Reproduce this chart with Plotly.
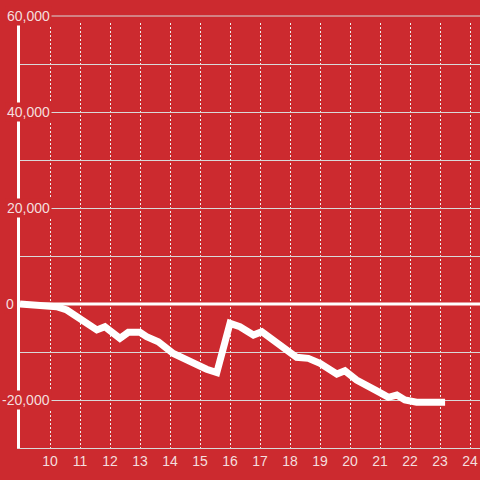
import plotly.graph_objects as go

# ---- data ----
hours = [9.0, 9.56, 10.22, 10.56, 11.0, 11.33, 11.56, 11.83, 12.06, 12.33, 12.61, 13.0,
         13.22, 13.61, 14.11, 14.56, 14.89, 15.22, 15.56, 16.0, 16.33, 16.78, 17.06,
         17.44, 18.22, 18.61, 19.0, 19.56, 19.83, 20.22, 20.67, 20.94, 21.28, 21.56,
         21.83, 22.22, 23.17]
values = [0, -140, -560, -1250, -3000, -4580, -5400, -4720, -5760, -7150, -5900, -5900,
          -6800, -7850, -10300, -11650, -12900, -13600, -14300, -4030, -4720, -6460, -5760,
          -7500, -11100, -11320, -12360, -14580, -13900, -15830, -17570, -18260, -19440, -18960,
          -20000, -20480, -20480]

y_tick_vals = [60000, 40000, 20000, 0, -20000]
y_tick_text = ["60,000", "40,000", "20,000", "0", "-20,000"]
x_tick_vals = list(range(10, 25))
x_tick_text = [str(v) for v in x_tick_vals]

# ---- style ----
BG = "#cc2a2f"
GRID = "#d9d9d9"
LABEL = "#f4dede"
W, H = 480, 480
ML, MR, MT, MB = 20, 0, 23, 32
Y_LO = -30000
PX_PER_10K = 48
plot_w = W - ML - MR
plot_h = H - MT - MB
Y_HI = Y_LO + plot_h * 10000 / PX_PER_10K
X_LO = 9.0
X_HI = X_LO + plot_w / 30.0


def yfrac(v):
    return (v - Y_LO) / (Y_HI - Y_LO)


fig = go.Figure()
fig.add_trace(go.Scatter(x=hours, y=values, mode="lines",
                         line=dict(color="white", width=7), hoverinfo="skip"))

shapes = [
    # top gridline (60,000) sits above the plot area
    dict(type="line", xref="paper", yref="paper", x0=0, x1=1,
         y0=yfrac(60000), y1=yfrac(60000), line=dict(color=GRID, width=1), layer="below"),
    # zero line
    dict(type="line", xref="paper", yref="y", x0=0, x1=1, y0=0, y1=0,
         line=dict(color="white", width=3), layer="above"),
]

annotations = []
for v, t in zip(y_tick_vals, y_tick_text):
    right_px = 16 if t == "0" else 52
    annotations.append(dict(
        xref="paper", yref="paper", x=(right_px - ML) / plot_w, y=yfrac(v),
        xanchor="right", yanchor="middle", text=t, showarrow=False,
        bgcolor=BG, borderpad=1,
        font=dict(family="Liberation Sans", size=14, color=LABEL)))

fig.update_layout(
    width=W, height=H,
    margin=dict(l=ML, r=MR, t=MT, b=MB),
    paper_bgcolor=BG, plot_bgcolor=BG,
    showlegend=False,
    shapes=shapes,
    annotations=annotations,
    xaxis=dict(range=[X_LO, X_HI], tickvals=x_tick_vals, ticktext=x_tick_text,
               showgrid=True, gridcolor="#eeeeee", griddash="2px,2px", gridwidth=1,
               showline=True, linecolor=GRID, linewidth=1, zeroline=False,
               ticks="", tickfont=dict(family="Liberation Sans", size=14, color=LABEL),
               fixedrange=True),
    yaxis=dict(range=[Y_LO, Y_HI], dtick=10000, tick0=0, showticklabels=False,
               showgrid=True, gridcolor=GRID, gridwidth=1, zeroline=False,
               showline=True, linecolor="white", linewidth=3, ticks="",
               fixedrange=True),
)

fig.write_html("out.html", config={"displayModeBar": False},
               post_script="document.body.style.margin='0';document.body.style.overflow='hidden';")
